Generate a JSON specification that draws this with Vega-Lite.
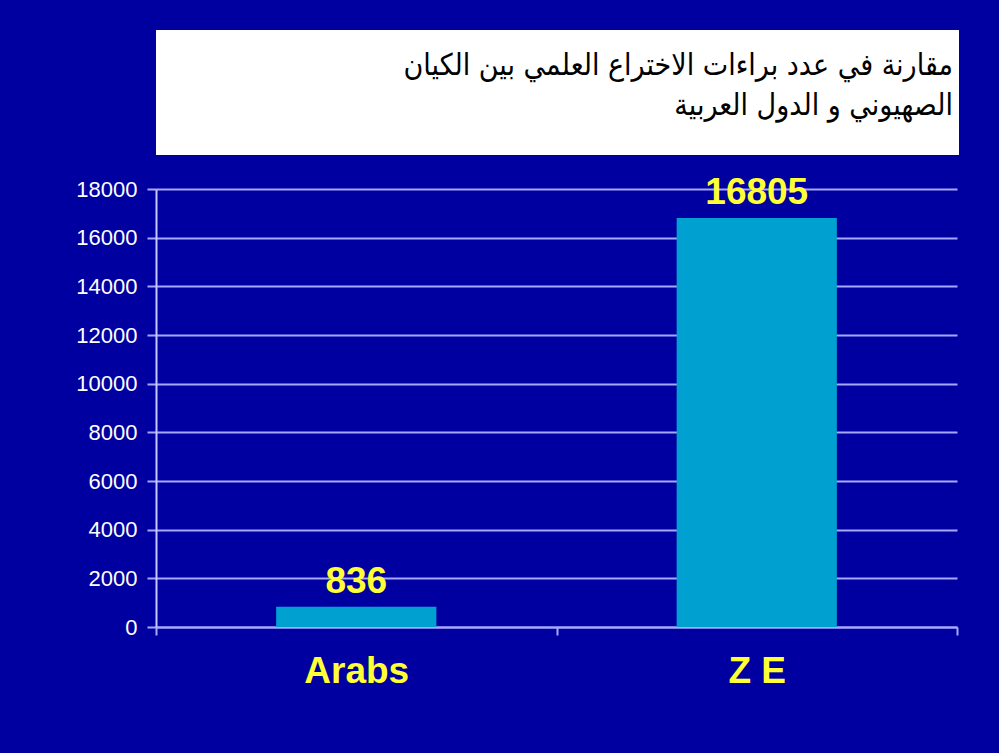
{
  "$schema": "https://vega.github.io/schema/vega-lite/v6.json",
  "background": "#0000a0",
  "padding": {"left": 75, "top": 30, "right": 40, "bottom": 64},
  "bounds": "flush",
  "spacing": 34,
  "config": {"view": {"stroke": null}},
  "vconcat": [
    {
      "width": 803,
      "height": 125,
      "view": {"fill": "white", "stroke": null},
      "data": {"values": [
        {"line": 1, "text": "مقارنة في عدد براءات الاختراع العلمي بين الكيان"},
        {"line": 2, "text": "الصهيوني و الدول العربية"}
      ]},
      "mark": {"type": "text", "align": "right", "baseline": "alphabetic", "font": "DejaVu Sans Condensed", "fontSize": 30, "color": "black", "dx": -6},
      "encoding": {
        "x": {"value": "width"},
        "y": {"field": "line", "type": "ordinal", "axis": null, "scale": {"type": "point", "range": [45, 85], "padding": 0}},
        "text": {"field": "text"}
      }
    },
    {
      "width": 801,
      "height": 438,
      "data": {"values": [
        {"group": "Arabs", "patents": 836},
        {"group": "Z E", "patents": 16805}
      ]},
      "encoding": {
        "x": {
          "field": "group", "type": "nominal", "sort": null,
          "scale": {"paddingInner": 0, "paddingOuter": 0},
          "axis": {
            "title": null, "labelAngle": 0, "tickBand": "extent", "grid": false,
            "domainColor": "#a8a8ff", "tickColor": "#a8a8ff", "tickSize": 8, "domainWidth": 2, "tickWidth": 2,
            "labelFont": "Liberation Sans", "labelFontSize": 37, "labelFontWeight": "bold", "labelColor": "#ffff33", "labelPadding": 18
          }
        },
        "y": {
          "field": "patents", "type": "quantitative",
          "scale": {"domain": [0, 18000], "nice": false},
          "axis": {
            "title": null, "values": [0, 2000, 4000, 6000, 8000, 10000, 12000, 14000, 16000, 18000],
            "format": "d", "grid": true, "gridColor": "#a8a8ff", "gridWidth": 2,
            "domainColor": "#c8c8ff", "domainWidth": 2, "tickColor": "#a8a8ff", "tickSize": 9, "tickWidth": 2,
            "labelFont": "Liberation Sans", "labelFontSize": 22, "labelColor": "white", "labelPadding": 10
          }
        }
      },
      "layer": [
        {"mark": {"type": "bar", "color": "#00a0d0", "width": {"band": 0.4}}},
        {
          "mark": {"type": "text", "baseline": "alphabetic", "dy": -14, "font": "Liberation Sans", "fontSize": 37, "fontWeight": "bold", "color": "#ffff33"},
          "encoding": {"text": {"field": "patents", "type": "quantitative", "format": "d"}}
        }
      ]
    }
  ]
}
